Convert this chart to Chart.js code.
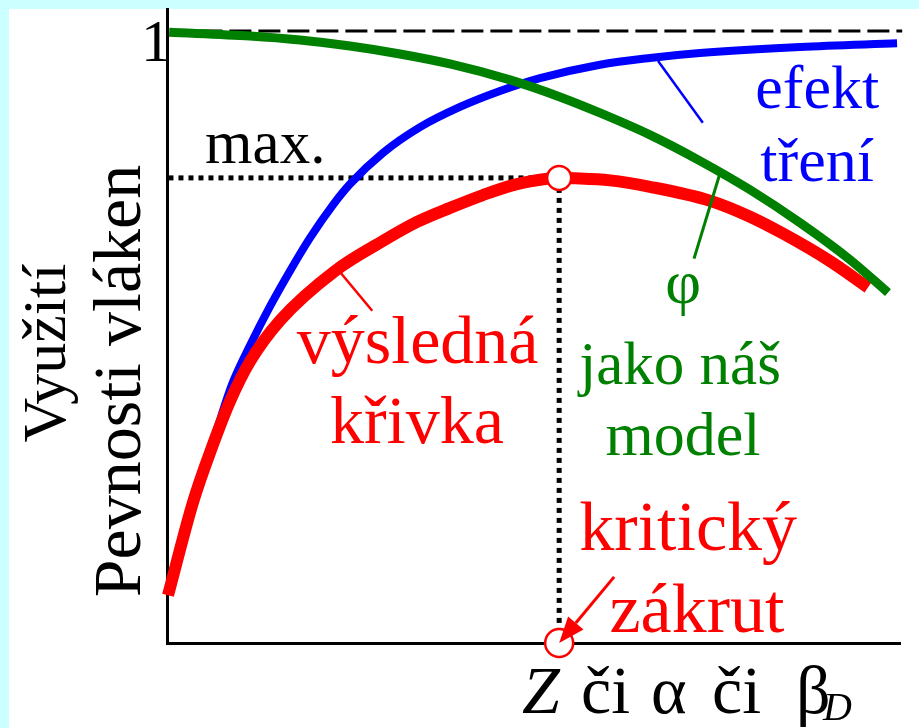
<!DOCTYPE html>
<html>
<head>
<meta charset="utf-8">
<script src="https://cdn.jsdelivr.net/npm/chart.js@4.4.1/dist/chart.umd.min.js"></script>
<style>
  html, body { margin: 0; padding: 0; background: #ccffff; }
</style>
</head>
<body>
<canvas id="zakrutChart" width="919" height="728"></canvas>
<script>
// x: zákrut (relativní jednotky 0..100), y: využití pevnosti vláken (1 = plné)
const resultX = [0.14, 3.55, 6.14, 8.59, 11.32, 15.42, 22.92, 29.47, 34.11, 38.61, 43.11, 47.48, 51.84, 53.48, 55.66, 60.44, 65.89, 74.08, 79.54, 84.04, 90.45, 95.63];
const resultY = [0.078, 0.230, 0.320, 0.395, 0.460, 0.527, 0.608, 0.657, 0.688, 0.711, 0.732, 0.749, 0.7586, 0.760, 0.7594, 0.756, 0.7455, 0.7227, 0.6966, 0.669, 0.624, 0.581];

const frictionX = [5.0, 6.8, 8.87, 11.32, 14.05, 16.78, 19.51, 22.65, 24.97, 29.47, 34.52, 39.97, 45.43, 50.89, 59.07, 65.89, 72.71, 86.36, 99.6];
const frictionY = [0.280, 0.348, 0.4225, 0.486, 0.550, 0.608, 0.662, 0.716, 0.750, 0.801, 0.843, 0.876, 0.902, 0.923, 0.945, 0.956, 0.964, 0.974, 0.980];

const phiX = [0.3, 11.32, 18.14, 24.97, 31.79, 38.61, 46.79, 53.61, 59.07, 65.89, 72.71, 79.54, 86.36, 93.18, 98.36];
const phiY = [0.998, 0.9918, 0.9853, 0.9755, 0.9625, 0.9462, 0.9201, 0.8923, 0.8662, 0.8303, 0.7879, 0.7406, 0.6868, 0.6264, 0.5726];

const optimumX = 53.5;
const optimumY = 0.760;
const yTicks = [1];

const RED = '#ff0000', BLUE = '#0000ff', GREEN = '#008000';
const SERIF = "'Liberation Serif', 'Times New Roman', serif";

const pts = (xs, ys) => xs.map((x, i) => ({ x: x, y: ys[i] }));

// popisky v datových souřadnicích (x, y = účaří)
const notes = [
    { text: 'max.', x: 5.2, y: 0.785, color: '#000', size: 61, align: 'left' },
    { text: 'efekt', x: 88.7, y: 0.874, color: BLUE, size: 62 },
    { text: 'tření', x: 88.7, y: 0.755, color: BLUE, size: 62 },
    { text: 'φ', x: 70.4, y: 0.555, color: GREEN, size: 62 },
    { text: 'jako náš', x: 70.0, y: 0.424, color: GREEN, size: 61 },
    { text: 'model', x: 70.4, y: 0.307, color: GREEN, size: 62 },
    { text: 'výsledná', x: 34.2, y: 0.457, color: RED, size: 68 },
    { text: 'křivka', x: 34.1, y: 0.326, color: RED, size: 68 },
    { text: 'kritický', x: 71.1, y: 0.152, color: RED, size: 70 },
    { text: 'zákrut', x: 72.3, y: 0.018, color: RED, size: 70 }
];

// odkazové čáry
const leaders = [
    { from: [67.0, 0.951], to: [73.1, 0.850], color: BLUE, width: 2.5 },
    { from: [75.4, 0.766], to: [71.9, 0.628], color: GREEN, width: 3 },
    { from: [23.2, 0.612], to: [28.0, 0.543], color: RED, width: 2.5 }
];
const arrowFrom = [61.0, 0.108];

// popisek osy x po částech: [text, levý okraj px, kurzíva]
const xTitle = [['Z', 522, true], ['či', 581, false], ['α', 651, false], ['či', 712, false], ['β', 796, false]];

const annotate = {
    id: 'annotate',
    beforeDraw(chart) {
        const c = chart.ctx;
        c.save();
        c.fillStyle = '#ccffff';
        c.fillRect(0, 0, chart.width, chart.height);
        c.fillStyle = '#ffffff';
        c.fillRect(9, 9, chart.width - 9, chart.height - 9);
        c.restore();
    },
    afterDatasetsDraw(chart) {
        const c = chart.ctx;
        const sx = chart.scales.x, sy = chart.scales.y;
        const px = v => sx.getPixelForValue(v);
        const py = v => sy.getPixelForValue(v);
        c.save();

        // popisek hodnoty 1 na ose y
        c.font = '60px ' + SERIF;
        c.fillStyle = '#000';
        c.textAlign = 'right';
        c.textBaseline = 'middle';
        yTicks.forEach(v => c.fillText(String(v), sx.left + 4, py(v) + 14));

        leaders.forEach(l => {
            c.beginPath();
            c.strokeStyle = l.color;
            c.lineWidth = l.width;
            c.moveTo(px(l.from[0]), py(l.from[1]));
            c.lineTo(px(l.to[0]), py(l.to[1]));
            c.stroke();
        });

        // šipka ke kritickému zákrutu
        const ax = px(arrowFrom[0]), ay = py(arrowFrom[1]);
        const tx = px(optimumX), ty = py(0);
        const len = Math.hypot(tx - ax, ty - ay);
        const ux = (tx - ax) / len, uy = (ty - ay) / len;
        const head = 26, half = 10;
        const bx = tx - ux * head, by = ty - uy * head;
        c.beginPath();
        c.strokeStyle = RED;
        c.lineWidth = 3;
        c.moveTo(ax, ay);
        c.lineTo(bx, by);
        c.stroke();
        c.beginPath();
        c.fillStyle = RED;
        c.moveTo(tx, ty);
        c.lineTo(bx - uy * half, by + ux * half);
        c.lineTo(bx + uy * half, by - ux * half);
        c.closePath();
        c.fill();

        c.textBaseline = 'alphabetic';
        notes.forEach(n => {
            c.font = n.size + 'px ' + SERIF;
            c.fillStyle = n.color;
            c.textAlign = n.align || 'center';
            c.fillText(n.text, px(n.x), py(n.y));
        });
        c.restore();
    },
    afterDraw(chart) {
        const c = chart.ctx;
        c.save();
        c.fillStyle = '#000';
        c.textBaseline = 'alphabetic';
        c.textAlign = 'center';

        // svislé popisky osy y
        c.save();
        c.translate(65, 353);
        c.rotate(-Math.PI / 2);
        c.font = '62px ' + SERIF;
        c.fillText('Využití', 0, 0);
        c.restore();
        c.save();
        c.translate(140, 381);
        c.rotate(-Math.PI / 2);
        c.font = '68px ' + SERIF;
        c.fillText('Pevnosti vláken', 0, 0);
        c.restore();

        // popisek osy x: Z či α či β_D
        c.textAlign = 'left';
        const base = 713;
        xTitle.forEach(([t, x, it]) => {
            c.font = (it ? 'italic ' : '') + '68px ' + SERIF;
            c.fillText(t, x, base);
        });
        c.font = 'italic 40px ' + SERIF;
        c.fillText('D', 823, 720);
        c.restore();
    }
};

new Chart(document.getElementById('zakrutChart'), {
    type: 'line',
    data: {
        datasets: [
            {
                label: 'kritický zákrut',
                data: [{ x: optimumX, y: optimumY }, { x: optimumX, y: 0 }],
                showLine: false,
                pointRadius: [12, 14],
                pointBackgroundColor: '#ffffff',
                pointBorderColor: RED,
                pointBorderWidth: 2.5,
                clip: false
            },
            {
                label: 'φ jako náš model',
                data: pts(phiX, phiY),
                borderColor: GREEN,
                borderWidth: 9,
                cubicInterpolationMode: 'monotone',
                pointRadius: 0,
                clip: false
            },
            {
                label: 'výsledná křivka',
                data: pts(resultX, resultY),
                borderColor: RED,
                borderWidth: 12,
                cubicInterpolationMode: 'monotone',
                pointRadius: 0,
                clip: false
            },
            {
                label: 'efekt tření',
                data: pts(frictionX, frictionY),
                borderColor: BLUE,
                borderWidth: 8,
                cubicInterpolationMode: 'monotone',
                pointRadius: 0,
                clip: false
            },
            {
                label: 'max. horizontálně',
                data: [{ x: 0.2, y: optimumY }, { x: optimumX, y: optimumY }],
                borderColor: '#000',
                borderWidth: 5,
                borderDash: [5, 5],
                pointRadius: 0,
                clip: false
            },
            {
                label: 'max. svisle',
                data: [{ x: optimumX, y: optimumY }, { x: optimumX, y: 0 }],
                borderColor: '#000',
                borderWidth: 5,
                borderDash: [5, 5],
                pointRadius: 0,
                clip: false
            },
            {
                label: '1',
                data: [{ x: 0.6, y: 1 }, { x: 100.3, y: 1 }],
                borderColor: '#000',
                borderWidth: 3,
                borderDash: [22, 7],
                pointRadius: 0,
                clip: false
            }
        ]
    },
    options: {
        responsive: false,
        animation: false,
        devicePixelRatio: 1,
        layout: { autoPadding: false, padding: { top: 9, right: 19, left: 0, bottom: 0 } },
        plugins: {
            legend: { display: false },
            tooltip: { enabled: false }
        },
        scales: {
            x: {
                type: 'linear',
                min: 0,
                max: 100,
                grid: { display: false, drawTicks: false },
                border: { display: true, color: '#000', width: 3 },
                ticks: { display: false },
                afterFit: s => { s.height = 85; }
            },
            y: {
                type: 'linear',
                min: 0,
                max: 1.036,
                grid: { display: false, drawTicks: false },
                border: { display: true, color: '#000', width: 3 },
                ticks: { display: false },
                afterFit: s => { s.width = 167; }
            }
        }
    },
    plugins: [annotate]
});
</script>
</body>
</html>
